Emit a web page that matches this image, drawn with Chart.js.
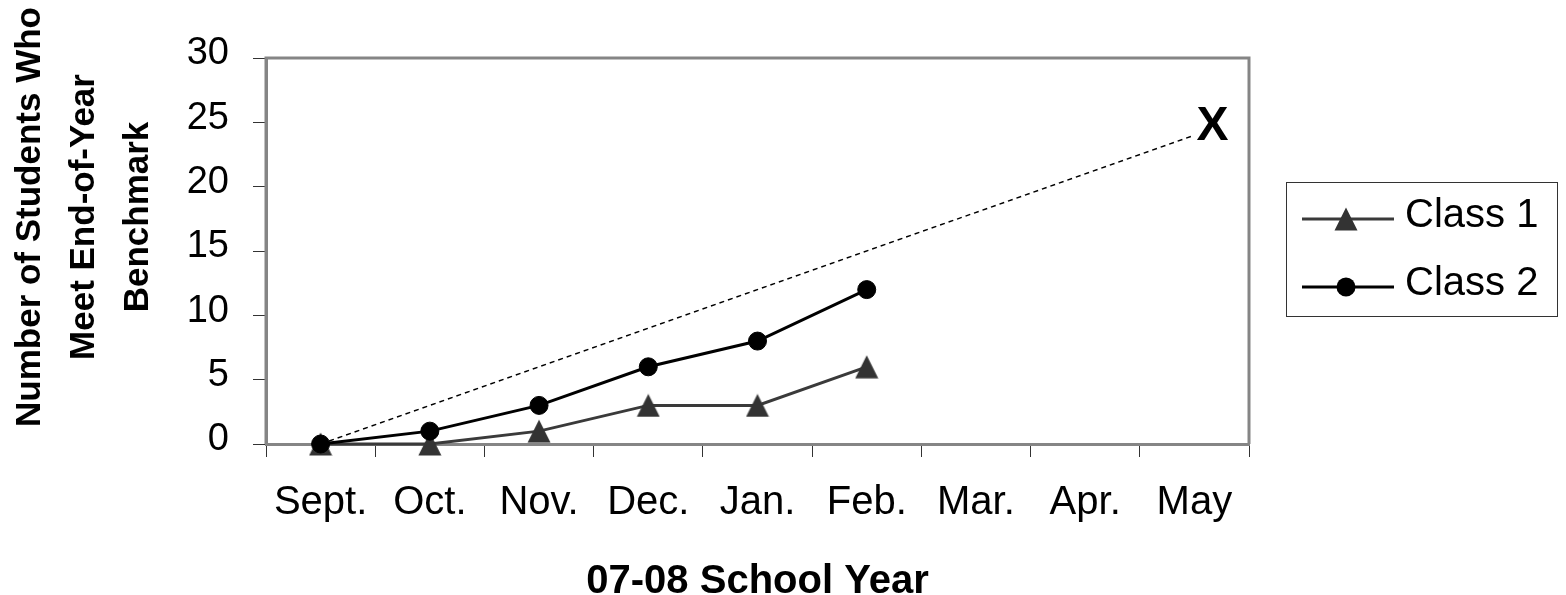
<!DOCTYPE html>
<html><head><meta charset="utf-8">
<script src="https://cdn.jsdelivr.net/npm/chart.js@4"></script>
<style>html,body{margin:0;padding:0;background:#fff}#wrap{width:1566px;height:595px}</style>
</head><body><div id="wrap"><canvas id="c" width="1566" height="595"></canvas></div>
<script>
const months = ['Sept.','Oct.','Nov.','Dec.','Jan.','Feb.','Mar.','Apr.','May'];
const class1 = [0,0,1,3,3,6,null,null,null];
const class2 = [0,1,3,6,8,12,null,null,null];
const goal = [0,null,null,null,null,null,null,null,24];
const yTicks = [0,5,10,15,20,25,30];
const yTitleLines = ['Number of Students Who','Meet End-of-Year','Benchmark'];
const xTitle = '07-08 School Year';
const goalMark = 'X';
const seriesNames = ['Class 1','Class 2'];

const FONT = "'Liberation Sans', Arial, sans-serif";

function makeTriangle(color){
  const c = document.createElement('canvas');
  c.width = 24; c.height = 24;
  const g = c.getContext('2d');
  g.fillStyle = color;
  g.beginPath(); g.moveTo(12,0.5); g.lineTo(23.5,23.5); g.lineTo(0.5,23.5); g.closePath(); g.fill();
  return c;
}
const triImg = makeTriangle('#333333');

const framePlugin = {
  id:'frame',
  beforeDatasetsDraw(chart){
    const {ctx, chartArea:a} = chart;
    ctx.save();
    ctx.strokeStyle = '#858585'; ctx.lineWidth = 3;
    ctx.beginPath();
    ctx.moveTo(a.left, a.bottom); ctx.lineTo(a.left, a.top); ctx.lineTo(a.right, a.top); ctx.lineTo(a.right, a.bottom);
    ctx.stroke();
    ctx.restore();
  },
  afterDraw(chart){
    const {ctx} = chart;
    ctx.save();
    ctx.fillStyle = '#000';
    // y title
    ctx.font = "bold 35px " + FONT;
    ctx.textAlign = 'center'; ctx.textBaseline = 'middle';
    const xs = [30, 84, 138];
    yTitleLines.forEach((t,i)=>{
      ctx.save(); ctx.translate(xs[i], 217); ctx.rotate(-Math.PI/2); ctx.fillText(t,0,0); ctx.restore();
    });
    // x title
    ctx.font = "bold 40px " + FONT;
    ctx.textBaseline = 'alphabetic';
    const a = chart.chartArea;
    ctx.fillText(xTitle, (a.left + a.right)/2, 593);
    // goal marker
    const meta = chart.getDatasetMeta(2);
    const last = meta.data[goal.length-1];
    ctx.font = "bold 48px " + FONT;
    ctx.textBaseline = 'middle';
    ctx.fillText(goalMark, last.x + 18, last.y - 8);
    // legend
    ctx.strokeStyle = '#333'; ctx.lineWidth = 1;
    ctx.strokeRect(1286.5, 182.5, 271, 134);
    const rows = [219, 287];
    [0,1].forEach(i=>{
      const ds = chart.data.datasets[i];
      const y = rows[i];
      ctx.strokeStyle = ds.borderColor; ctx.lineWidth = 3;
      ctx.beginPath(); ctx.moveTo(1302, y); ctx.lineTo(1394, y); ctx.stroke();
      if (i === 0) {
        ctx.drawImage(triImg, 1346 - 12, y - 12);
      } else {
        ctx.fillStyle = '#000';
        ctx.beginPath(); ctx.arc(1346, y, 9.5, 0, Math.PI*2); ctx.fill();
      }
      ctx.fillStyle = '#000';
      ctx.font = "40px " + FONT;
      ctx.textAlign = 'left'; ctx.textBaseline = 'middle';
      ctx.fillText(seriesNames[i], 1405, y - 3);
    });
    ctx.restore();
  }
};

new Chart(document.getElementById('c'), {
  type:'line',
  data:{
    labels: months,
    datasets:[
      {label:seriesNames[0], data:class1, borderColor:'#3a3a3a', backgroundColor:'#333', borderWidth:3,
       pointStyle:triImg, pointRadius:12, tension:0, clip:false, order:1},
      {label:seriesNames[1], data:class2, borderColor:'#000', backgroundColor:'#000', borderWidth:3,
       pointStyle:'circle', pointRadius:9, pointBorderWidth:1, pointBorderColor:'#000', tension:0, clip:false, order:0},
      {label:'Goal', data:goal, spanGaps:true, borderColor:'#000', borderWidth:1.5, borderDash:[5,4],
       pointRadius:0, tension:0, clip:false, order:2}
    ]
  },
  options:{
    responsive:false, animation:false, devicePixelRatio:1,
    layout:{padding:{top:58, right:317, left:0, bottom:0}},
    plugins:{legend:{display:false}, tooltip:{enabled:false}},
    events:[],
    scales:{
      x:{
        offset:true,
        grid:{offset:true, drawOnChartArea:false, drawTicks:true, tickLength:13, color:'#333', lineWidth:1},
        border:{display:true, color:'#858585', width:3},
        ticks:{font:{family:FONT, size:40}, color:'#000', padding:22, maxRotation:0, autoSkip:false},
        afterFit(s){ s.height = 151; }
      },
      y:{
        min:0, max:30,
        afterBuildTicks(s){ s.ticks = yTicks.map(v=>({value:v})); },
        grid:{drawOnChartArea:false, drawTicks:true, tickLength:13, color:'#333', lineWidth:1},
        border:{display:true, color:'#858585', width:3},
        ticks:{font:{family:FONT, size:38}, color:'#000', padding:24, labelOffset:-4},
        afterFit(s){ s.width = 266; }
      }
    }
  },
  plugins:[framePlugin]
});
</script>
</body></html>
